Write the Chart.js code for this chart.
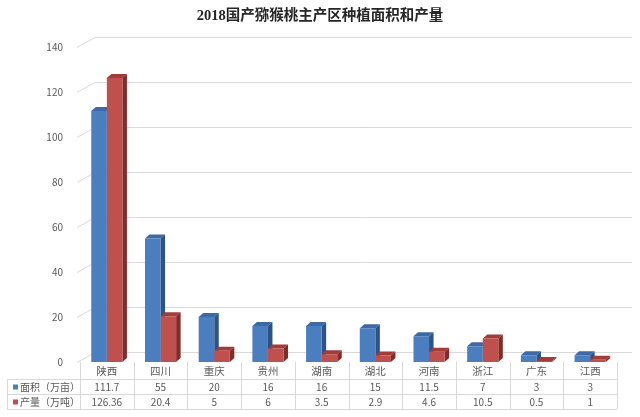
<!DOCTYPE html>
<html>
<head>
<meta charset="utf-8">
<script src="https://cdn.jsdelivr.net/npm/chart.js@4.4.1/dist/chart.umd.min.js"></script>
<style>
  html, body { margin: 0; padding: 0; background: #fff; }
  #wrap { width: 640px; height: 417px; }
</style>
</head>
<body>
<div id="wrap"><canvas id="myChart"></canvas></div>
<script>
var regions = ["陕西", "四川", "重庆", "贵州", "湖南", "湖北", "河南", "浙江", "广东", "江西"];
var areaValues = [111.7, 55, 20, 16, 16, 15, 11.5, 7, 3, 3];
var outputValues = [126.36, 20.4, 5, 6, 3.5, 2.9, 4.6, 10.5, 0.5, 1];
var yTicks = [0, 20, 40, 60, 80, 100, 120, 140];
var seriesNames = ["面积（万亩）", "产量（万吨）"];

var gridColor = '#d9d9d9';
var textColor = '#595959';
var tableFont = "10px 'Noto Sans CJK SC', sans-serif";

// fake 3D: grid back wall, bar tops/sides
var depthPlugin = {
  id: 'depth',
  beforeDatasetsDraw: function (chart) {
    var c = chart.ctx, y = chart.scales.y, area = chart.chartArea;
    var gdx = 15, gdy = 10;
    c.save();
    c.strokeStyle = gridColor;
    c.lineWidth = 1;
    yTicks.forEach(function (v) {
      var py = Math.round(y.getPixelForValue(v)) + 0.5;
      c.beginPath();
      c.moveTo(area.left - 3, py);
      c.lineTo(area.left + gdx, py - gdy);
      c.lineTo(area.right + gdx, py - gdy);
      c.stroke();
    });
    var dx = 4.5, dy = 4;
    var faces = [['#3d69a6', '#2c5286'], ['#a33b37', '#832b28']];
    chart.data.datasets.forEach(function (ds, di) {
      chart.getDatasetMeta(di).data.forEach(function (bar) {
        var l = bar.x - bar.width / 2, r = bar.x + bar.width / 2;
        c.fillStyle = faces[di][0];
        c.beginPath();
        c.moveTo(l, bar.y); c.lineTo(r, bar.y);
        c.lineTo(r + dx, bar.y - dy); c.lineTo(l + dx, bar.y - dy);
        c.closePath(); c.fill();
        c.fillStyle = faces[di][1];
        c.beginPath();
        c.moveTo(r, bar.y); c.lineTo(r + dx, bar.y - dy);
        c.lineTo(r + dx, bar.base - dy); c.lineTo(r, bar.base);
        c.closePath(); c.fill();
      });
    });
    c.restore();
  },
  afterDraw: function (chart) {
    // data table under the plot
    var c = chart.ctx, x = chart.scales.x, area = chart.chartArea;
    var colW = (x.right - x.left) / regions.length;
    var top = area.bottom, r1 = top + 17, r2 = r1 + 15, r3 = r2 + 15, leftEdge = 7;
    c.save();
    c.strokeStyle = gridColor;
    c.lineWidth = 1;
    c.beginPath();
    [r1, r2, r3].forEach(function (ry) {
      c.moveTo(leftEdge, ry + 0.5); c.lineTo(x.right, ry + 0.5);
    });
    for (var i = 0; i <= regions.length; i++) {
      var vx = Math.round(x.left + i * colW) + 0.5;
      c.moveTo(vx, top); c.lineTo(vx, r3);
    }
    c.moveTo(leftEdge + 0.5, r1); c.lineTo(leftEdge + 0.5, r3);
    c.stroke();

    c.fillStyle = textColor;
    c.textAlign = 'center';
    c.textBaseline = 'middle';
    c.font = "10.5px 'Noto Sans CJK SC', sans-serif";
    regions.forEach(function (name, i) {
      c.fillText(name, x.getPixelForValue(i), (top + r1) / 2 + 1);
    });
    c.font = tableFont;
    var rows = [[areaValues, r1, r2], [outputValues, r2, r3]];
    rows.forEach(function (row, ri) {
      var cy = (row[1] + row[2]) / 2 + 0.5;
      row[0].forEach(function (v, i) {
        c.fillText(String(v), x.getPixelForValue(i), cy);
      });
      var ds = chart.data.datasets[ri];
      c.fillStyle = ds.backgroundColor;
      c.fillRect(leftEdge + 6, cy - 2.5, 5, 5);
      c.fillStyle = textColor;
      c.textAlign = 'left';
      c.fillText(ds.label, leftEdge + 13, cy);
      c.textAlign = 'center';
    });
    c.restore();
  }
};

var ctx = document.getElementById("myChart").getContext('2d');
var myChart = new Chart(ctx, {
  type: 'bar',
  data: {
    labels: regions,
    datasets: [{
      label: seriesNames[0],
      backgroundColor: '#4a7ebf',
      data: areaValues
    }, {
      label: seriesNames[1],
      backgroundColor: '#c0504d',
      data: outputValues
    }]
  },
  options: {
    responsive: true,
    maintainAspectRatio: false,
    animation: false,
    layout: { padding: { top: 0, right: 23, bottom: 55, left: 23 } },
    datasets: { bar: { categoryPercentage: 0.58, barPercentage: 1 } },
    plugins: {
      legend: { display: false },
      tooltip: { enabled: false },
      title: {
        display: true,
        text: '2018国产猕猴桃主产区种植面积和产量',
        color: '#262626',
        font: { family: "'Liberation Serif', 'Noto Sans CJK SC', serif", size: 14.5, weight: 'bold' },
        padding: { top: 8, bottom: 22 }
      }
    },
    scales: {
      x: { display: false },
      y: {
        min: 0, max: 140,
        afterFit: function (s) { s.width = 57; },
        afterBuildTicks: function (s) { s.ticks = yTicks.map(function (v) { return { value: v }; }); },
        grid: { display: false },
        border: { display: false },
        ticks: { color: textColor, padding: 9, font: { size: 10, family: "'Noto Sans CJK SC', sans-serif" } }
      }
    }
  },
  plugins: [depthPlugin]
});
</script>
</body>
</html>
